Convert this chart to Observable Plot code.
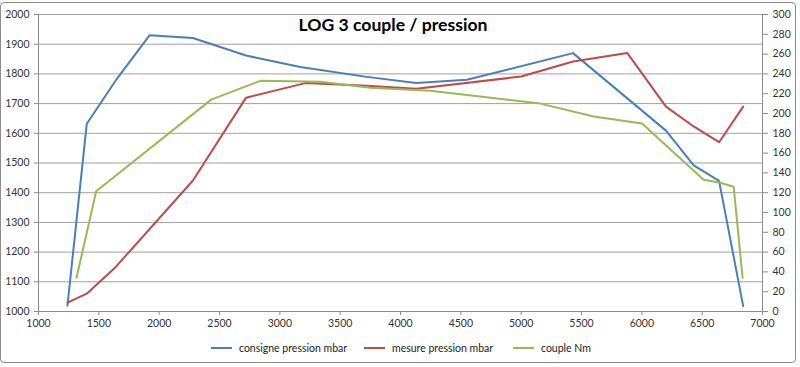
<!DOCTYPE html>
<html><head><meta charset="utf-8">
<script src="https://cdn.jsdelivr.net/npm/d3@7"></script>
<script src="https://cdn.jsdelivr.net/npm/@observablehq/plot@0.6"></script>
<style>
body{margin:0;background:#fff;font-family:Lato,"Open Sans",sans-serif;}
#wrap{position:relative;width:800px;height:367px;overflow:hidden;}
#frame{position:absolute;left:0px;top:2px;width:796px;height:361px;border:1px solid #8c8c8c;border-radius:4px;box-sizing:border-box;}
#title{position:absolute;left:0;width:786px;top:14px;text-align:center;font-weight:bold;font-size:17.6px;color:#000;}
#legend{position:absolute;top:341px;left:0;width:800px;height:14px;font-size:10.5px;color:#222;}
.li{position:absolute;display:flex;align-items:center;height:14px;}
.sw{width:21px;height:0;border-top:2px solid;margin-right:7px;}
svg{position:absolute;left:0;top:0;}
</style></head>
<body><div id="wrap"><div id="frame"></div><div id="title">LOG 3 couple / pression</div><div id="legend"></div></div>
<script>
const seriesNames = ["consigne pression mbar", "mesure pression mbar", "couple Nm"];
const colors = ["#4a7ebb", "#be4b48", "#98b954"];

const rpmConsigne = [1240, 1400, 1640, 1920, 2280, 2720, 3170, 3720, 4130, 4550, 5430, 6200, 6430, 6640, 6840];
const consigne    = [1020, 1632, 1778, 1930, 1921, 1862, 1823, 1790, 1769, 1780, 1870, 1609, 1492, 1440, 1018];

const rpmMesure = [1240, 1400, 1640, 2280, 2720, 3210, 3720, 4130, 5000, 5430, 5880, 6200, 6430, 6640, 6840];
const mesure    = [1030, 1060, 1150, 1441, 1720, 1769, 1760, 1750, 1791, 1842, 1870, 1690, 1623, 1570, 1690];

const rpmCouple = [1315, 1478, 2431, 2839, 3336, 3750, 4248, 5159, 5601, 6002, 6512, 6650, 6761, 6835];
const couple    = [34, 121.5, 214, 233, 232, 226, 223, 210, 197, 190, 133, 130, 126, 34];

const xTicks = [1000, 1500, 2000, 2500, 3000, 3500, 4000, 4500, 5000, 5500, 6000, 6500, 7000];
const leftTicks = [1000, 1100, 1200, 1300, 1400, 1500, 1600, 1700, 1800, 1900, 2000];
const rightTicks = [0, 20, 40, 60, 80, 100, 120, 140, 160, 180, 200, 220, 240, 260, 280, 300];

// right axis (Nm) mapped onto the left (mbar) domain: 0..300 Nm <-> 1000..2000 mbar
const nmToMbar = v => 1000 + v * 1000 / 300;
const mbarToNm = v => (v - 1000) * 300 / 1000;

const rows = [
  ...rpmConsigne.map((x, i) => ({x, y: consigne[i], s: seriesNames[0]})),
  ...rpmMesure.map((x, i) => ({x, y: mesure[i], s: seriesNames[1]})),
  ...rpmCouple.map((x, i) => ({x, y: nmToMbar(couple[i]), s: seriesNames[2]}))
];

const chart = Plot.plot({
  width: 800, height: 367,
  marginLeft: 38, marginRight: 38, marginTop: 14, marginBottom: 56,
  style: {fontFamily: "Lato, 'Open Sans', sans-serif", fontSize: "10.5px", color: "#333", background: "transparent"},
  x: {domain: [1000, 7000]},
  y: {domain: [1000, 2000]},
  color: {domain: seriesNames, range: colors},
  marks: [
    Plot.gridY(leftTicks, {stroke: "#a0a0a0", strokeOpacity: 1, strokeWidth: 1}),
    Plot.ruleX([1000, 7000], {stroke: "#8c8c8c"}),
    Plot.ruleY([1000], {stroke: "#8c8c8c"}),
    Plot.axisX({ticks: xTicks, tickSize: 4, tickPadding: 4, tickFormat: d => String(d), label: null, stroke: "#8c8c8c"}),
    Plot.axisY({ticks: leftTicks, anchor: "left", tickSize: 4, tickPadding: 5, tickFormat: d => String(d), label: null, stroke: "#8c8c8c"}),
    Plot.axisY({ticks: rightTicks.map(nmToMbar), anchor: "right", tickSize: 5, tickPadding: 5, tickFormat: d => String(Math.round(mbarToNm(d))), label: null, stroke: "#8c8c8c"}),
    Plot.line(rows, {x: "x", y: "y", z: "s", stroke: "s", strokeWidth: 2, curve: "linear"})
  ]
});
document.getElementById("wrap").appendChild(chart);

const legend = document.getElementById("legend");
const legendX = [211, 364, 513];
seriesNames.forEach((n, i) => {
  const d = document.createElement("div");
  d.className = "li";
  d.style.left = legendX[i] + "px";
  d.innerHTML = `<span class="sw" style="border-color:${colors[i]}"></span><span>${n}</span>`;
  legend.appendChild(d);
});
</script>
</body></html>
